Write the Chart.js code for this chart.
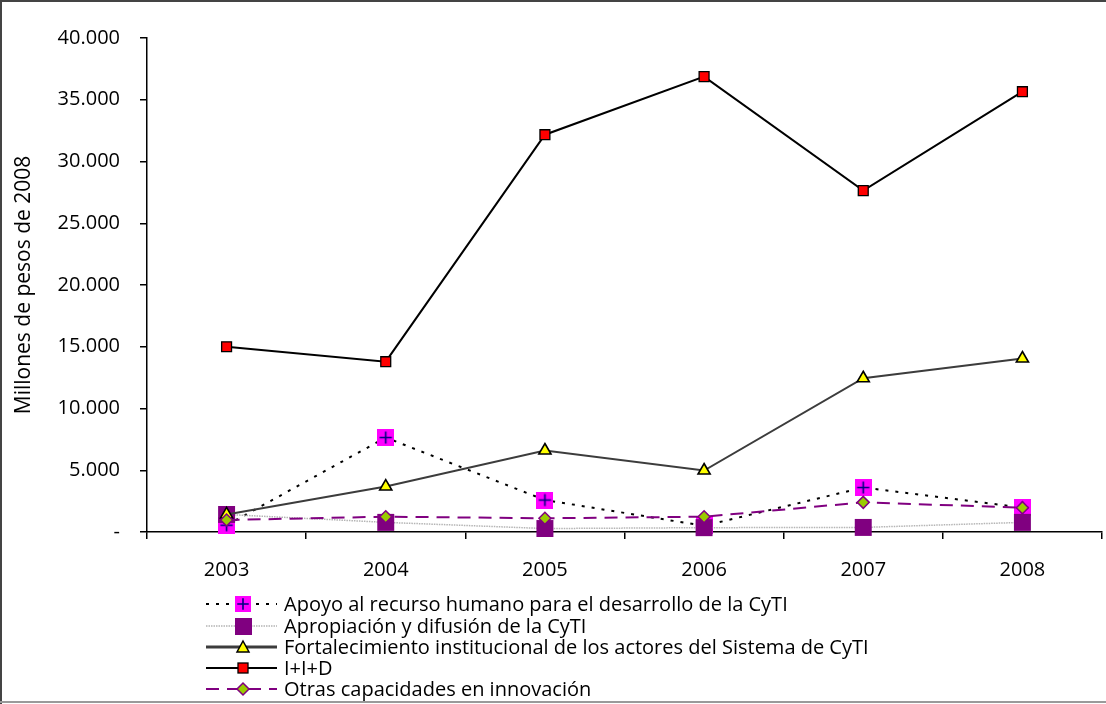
<!DOCTYPE html>
<html>
<head>
<meta charset="utf-8">
<script src="https://cdn.jsdelivr.net/npm/chart.js@4/dist/chart.umd.min.js"></script>
<style>
  html, body { margin: 0; padding: 0; background: #fff; }
  #box { width: 1106px; height: 704px; }
</style>
</head>
<body>
<div id="box"><canvas id="c" width="1106" height="704"></canvas></div>
<script>
// Inversión por línea de acción (millones de pesos de 2008)
const years = ['2003', '2004', '2005', '2006', '2007', '2008'];
const apoyoRH = [550, 7650, 2590, 500, 3600, 1980];
const apropiacion = [1420, 780, 280, 350, 370, 780];
const fortalecimiento = [1420, 3680, 6600, 4980, 12450, 14050];
const iid = [15000, 13790, 32170, 36870, 27640, 35650];
const otras = [970, 1240, 1110, 1240, 2400, 1970];
const yTicks = [0, 5000, 10000, 15000, 20000, 25000, 30000, 35000, 40000];

const seriesNames = [
  'Apoyo al recurso humano para el desarrollo de la CyTI',
  'Apropiación y difusión de la CyTI',
  'Fortalecimiento institucional de los actores del Sistema de CyTI',
  'I+I+D',
  'Otras capacidades en innovación'
];

const FONT = '"Open Sans", "DejaVu Sans", sans-serif';

// Magenta square with a dark cross, used as the "Apoyo" marker
function crossSquare(size) {
  const cv = document.createElement('canvas');
  cv.width = size; cv.height = size;
  const g = cv.getContext('2d');
  g.fillStyle = '#FF00FF';
  g.fillRect(0, 0, size, size);
  g.strokeStyle = '#000080';
  g.lineWidth = 1.6;
  const m = size / 2, a = size * 0.36;
  g.beginPath();
  g.moveTo(m - a, m); g.lineTo(m + a, m);
  g.moveTo(m, m - a); g.lineTo(m, m + a);
  g.stroke();
  return cv;
}
const apoyoMarker = crossSquare(17);
const apoyoLegendMarker = crossSquare(16);

const datasets = [
  {
    label: seriesNames[0], data: apoyoRH, order: 5,
    borderColor: '#000', borderWidth: 2, borderDash: [3, 7],
    pointStyle: apoyoMarker, pointRadius: 9,
    legendMarker: 'cross', legendWidth: 2
  },
  {
    label: seriesNames[1], data: apropiacion, order: 4,
    borderColor: '#B4B4B4', borderWidth: 1.5, borderDash: [1.5, 1],
    pointStyle: 'rect', pointRadius: 12, pointBackgroundColor: '#800080',
    pointBorderColor: '#800080', pointBorderWidth: 0,
    legendMarker: 'square', legendWidth: 1.5
  },
  {
    label: seriesNames[2], data: fortalecimiento, order: 3,
    borderColor: '#3C3C3C', borderWidth: 2,
    pointStyle: 'triangle', pointRadius: 7, pointBackgroundColor: '#FFFF00',
    pointBorderColor: '#000', pointBorderWidth: 1.6,
    legendMarker: 'triangle', legendWidth: 3
  },
  {
    label: seriesNames[3], data: iid, order: 2,
    borderColor: '#000', borderWidth: 2,
    pointStyle: 'rect', pointRadius: 7, pointBackgroundColor: '#FF0000',
    pointBorderColor: '#000', pointBorderWidth: 1.3,
    legendMarker: 'red', legendWidth: 2
  },
  {
    label: seriesNames[4], data: otras, order: 1,
    borderColor: '#800080', borderWidth: 2, borderDash: [13, 8],
    pointStyle: 'rectRot', pointRadius: 6, pointBackgroundColor: '#99CC00',
    pointBorderColor: '#800080', pointBorderWidth: 1.5,
    legendMarker: 'diamond', legendWidth: 2
  }
].map(d => Object.assign({
  fill: false, tension: 0, clip: false, pointHoverRadius: d.pointRadius
}, d));

// Frame around the whole figure plus a stacked legend under the axis
const framePlugin = {
  id: 'frameAndLegend',
  beforeDraw(chart) {
    const ctx = chart.ctx;
    ctx.save();
    ctx.fillStyle = '#fff';
    ctx.fillRect(0, 0, chart.width, chart.height);
    ctx.restore();
  },
  afterDraw(chart) {
    const ctx = chart.ctx;
    const W = chart.width, H = chart.height;
    ctx.save();
    ctx.lineWidth = 2;
    ctx.strokeStyle = '#444';
    ctx.beginPath();
    ctx.moveTo(1, H); ctx.lineTo(1, 1); ctx.lineTo(W, 1);
    ctx.stroke();
    ctx.strokeStyle = '#9a9a9a';
    ctx.beginPath();
    ctx.moveTo(0, H - 2); ctx.lineTo(W, H - 2);
    ctx.stroke();

    // legend
    const x0 = 206, x1 = 277, xm = 243, tx = 284;
    const rowY = [604, 626, 647, 668, 689];
    ctx.font = '20px ' + FONT;
    ctx.textBaseline = 'middle';
    ctx.textAlign = 'left';
    chart.data.datasets.forEach((ds, i) => {
      const y = rowY[i];
      ctx.save();
      ctx.strokeStyle = ds.borderColor;
      ctx.lineWidth = ds.legendWidth;
      ctx.setLineDash(ds.borderDash || []);
      ctx.beginPath();
      ctx.moveTo(x0, y); ctx.lineTo(x1, y);
      ctx.stroke();
      ctx.setLineDash([]);
      switch (ds.legendMarker) {
        case 'cross':
          ctx.drawImage(apoyoLegendMarker, xm - 8, y - 8);
          break;
        case 'square':
          ctx.fillStyle = '#800080';
          ctx.fillRect(xm - 8, y - 8, 17, 17);
          break;
        case 'triangle':
          ctx.fillStyle = '#FFFF00';
          ctx.strokeStyle = '#000';
          ctx.lineWidth = 1.5;
          ctx.beginPath();
          ctx.moveTo(xm, y - 6); ctx.lineTo(xm + 6, y + 5); ctx.lineTo(xm - 6, y + 5);
          ctx.closePath(); ctx.fill(); ctx.stroke();
          break;
        case 'red':
          ctx.fillStyle = '#FF0000';
          ctx.strokeStyle = '#000';
          ctx.lineWidth = 1.3;
          ctx.fillRect(xm - 5, y - 5, 10, 10);
          ctx.strokeRect(xm - 5, y - 5, 10, 10);
          break;
        case 'diamond':
          ctx.fillStyle = '#99CC00';
          ctx.strokeStyle = '#800080';
          ctx.lineWidth = 1.5;
          ctx.beginPath();
          ctx.moveTo(xm, y - 6); ctx.lineTo(xm + 6, y); ctx.lineTo(xm, y + 6); ctx.lineTo(xm - 6, y);
          ctx.closePath(); ctx.fill(); ctx.stroke();
          break;
      }
      ctx.fillStyle = '#000';
      ctx.fillText(ds.label, tx, y + 1);
      ctx.restore();
    });
    ctx.restore();
  }
};

new Chart(document.getElementById('c'), {
  type: 'line',
  data: { labels: years, datasets },
  plugins: [framePlugin],
  options: {
    responsive: false,
    animation: false,
    events: [],
    layout: { autoPadding: false, padding: { top: 38, right: 4, left: 0, bottom: 0 } },
    plugins: {
      legend: { display: false },
      tooltip: { enabled: false }
    },
    scales: {
      x: {
        offset: true,
        grid: {
          offset: true, drawOnChartArea: false, drawTicks: true,
          tickLength: 7, color: '#000', tickColor: '#000', lineWidth: 1.5
        },
        border: { display: true, color: '#000', width: 1.5 },
        ticks: { color: '#000', font: { family: FONT, size: 20 }, padding: 19 },
        afterFit(scale) {
          scale.height = 172;
          scale.paddingLeft = 0;
          scale.paddingRight = 0;
        }
      },
      y: {
        min: 0, max: 40000,
        afterBuildTicks(scale) { scale.ticks = yTicks.map(v => ({ value: v })); },
        grid: {
          drawOnChartArea: false, drawTicks: true, tickLength: 7,
          color: '#000', tickColor: '#000', lineWidth: 1.5
        },
        border: { display: true, color: '#000', width: 1.5 },
        ticks: {
          color: '#000', font: { family: FONT, size: 20 }, padding: 20,
          callback: v => v === 0 ? '-' : v.toLocaleString('de-DE')
        },
        title: {
          display: true, text: 'Millones de pesos de 2008', color: '#000',
          font: { family: FONT, size: 21 }, padding: { top: 11, bottom: 0 }
        },
        afterFit(scale) {
          scale.width = 147;
          scale.paddingTop = 0;
          scale.paddingBottom = 0;
        }
      }
    }
  }
});
</script>
</body>
</html>
